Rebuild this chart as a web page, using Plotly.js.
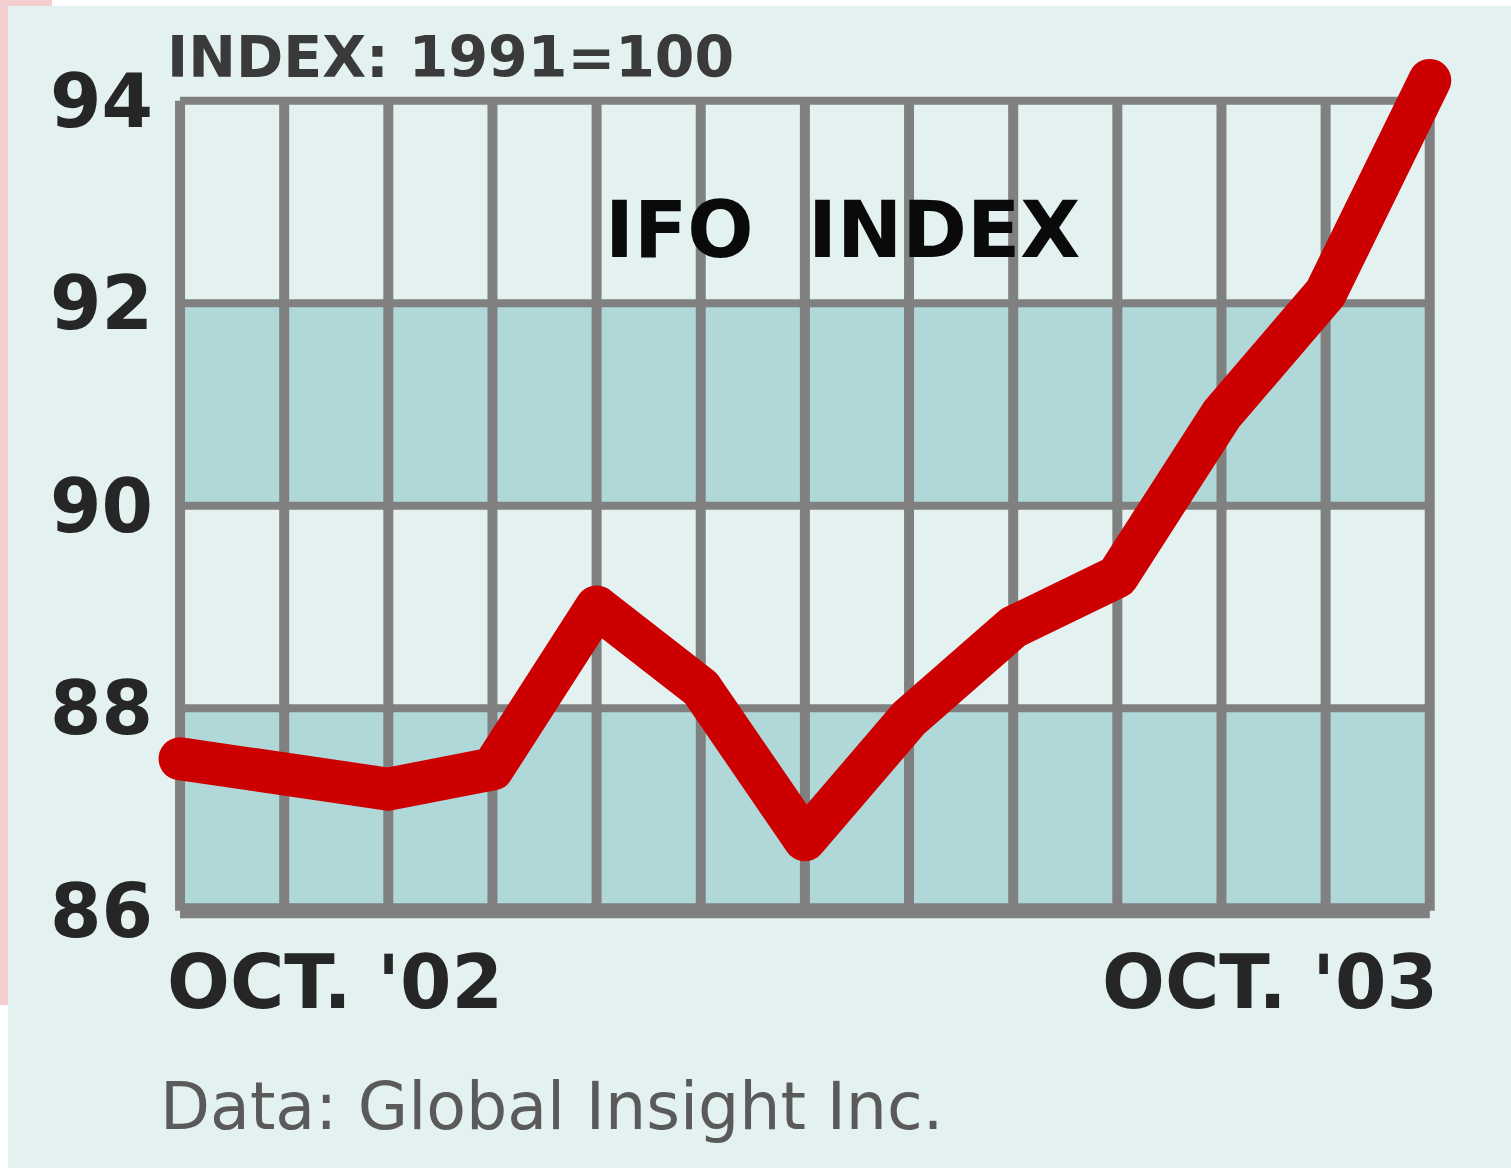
<!DOCTYPE html>
<html>
<head>
<meta charset="utf-8">
<script src="https://cdn.plot.ly/plotly-3.0.1.min.js"></script>
<style>
  html, body { margin:0; padding:0; background:#ffffff; width:1511px; height:1168px; overflow:hidden; }
  #edgeL { position:absolute; left:0; top:0; width:8px; height:1005px; background:#f4cdce; }
  #edgeT { position:absolute; left:0; top:0; width:52px; height:6px; background:#f4cdce; }
  #chart { position:absolute; left:8px; top:6px; width:1503px; height:1162px; }
  .scatterlayer .js-line { stroke-linecap: round !important; stroke-linejoin: round !important; }
</style>
</head>
<body>
<div id="edgeL"></div>
<div id="edgeT"></div>
<div id="chart"></div>
<script>
// ---- data ----
const months = ['Oct 02','Nov 02','Dec 02','Jan 03','Feb 03','Mar 03','Apr 03',
                'May 03','Jun 03','Jul 03','Aug 03','Sep 03','Oct 03'];
const ifoIndex = [87.5, 87.4, 87.2, 87.4, 89.0, 88.2, 86.7, 87.9, 88.8, 89.3, 90.9, 92.1, 94.2];
const yTickVals = [86, 88, 90, 92, 94];
const yTickText = ['86', '88', '90', '92', '94'];
const bandLow  = [86, 90];
const bandHigh = [88, 92];
const firstLabel = "OCT. '02";
const lastLabel  = "OCT. '03";
const chartTitle = 'IFO\u00a0 INDEX';
const unitNote   = 'INDEX: 1991=100';
const sourceNote = 'Data: Global Insight Inc.';

// ---- styles ----
const BG = '#e3f1f1';
const BAND = '#b1d8d8';
const GRID = '#808080';
const RED = '#cc0000';
const FONT = 'DejaVu Sans, Arial, sans-serif';

const shapes = [];
// shaded bands
for (let i = 0; i < bandLow.length; i++) {
  shapes.push({type:'rect', xref:'x', yref:'y', layer:'below',
    x0: months[0], x1: months[months.length-1], y0: bandLow[i], y1: bandHigh[i],
    fillcolor: BAND, line:{width:0}});
}
// vertical grid lines (one per month)
months.forEach(m => {
  shapes.push({type:'line', xref:'x', yref:'y', layer:'below',
    x0: m, x1: m, y0: yTickVals[0], y1: yTickVals[yTickVals.length-1],
    line:{color: GRID, width: 10}});
});
// horizontal grid lines
yTickVals.forEach((v, i) => {
  shapes.push({type:'line', xref:'x', yref:'y', layer:'below',
    x0: months[0], x1: months[months.length-1], y0: v, y1: v,
    line:{color: GRID, width: i === 0 ? 15 : 8}});
});

const trace = {
  type:'scatter', mode:'lines', x: months, y: ifoIndex,
  line:{color: RED, width: 43}, hoverinfo:'skip', cliponaxis:false
};

const layout = {
  width:1503, height:1162,
  margin:{l:146, r:50, t:44, b:232},
  paper_bgcolor: BG, plot_bgcolor: BG,
  showlegend:false,
  xaxis:{type:'category', range:[-0.25, 12.3], showgrid:false, zeroline:false,
         showticklabels:false, showline:false, ticks:''},
  yaxis:{range:[85.75, 94.5], tickvals: yTickVals, ticktext: yTickText,
         showgrid:false, zeroline:false, showline:false, ticks:'',
         tickfont:{family: FONT, size:74, color:'#262626', weight:'bold'}},
  shapes: shapes,
  annotations:[
    {text: unitNote, xref:'paper', yref:'paper', x:0.0084, y:0.992,
     xanchor:'left', yanchor:'middle', showarrow:false,
     font:{family: FONT, size:57, color:'#3a3a3a', weight:'bold'}},
    {text: chartTitle, xref:'paper', yref:'paper', x:0.5264, y:0.797,
     xanchor:'center', yanchor:'middle', showarrow:false,
     font:{family: FONT, size:78, color:'#0a0a0a', weight:'bold'}},
    {text: firstLabel, xref:'paper', yref:'paper', x:0.0084, y:-0.052,
     xanchor:'left', yanchor:'middle', showarrow:false,
     font:{family: FONT, size:74, color:'#262626', weight:'bold'}},
    {text: lastLabel, xref:'paper', yref:'paper', x:0.984, y:-0.052,
     xanchor:'right', yanchor:'middle', showarrow:false,
     font:{family: FONT, size:74, color:'#262626', weight:'bold'}},
    {text: sourceNote, xref:'paper', yref:'paper', x:0.003, y:-0.193,
     xanchor:'left', yanchor:'middle', showarrow:false,
     font:{family: FONT, size:65, color:'#5a5a5a'}}
  ]
};

Plotly.newPlot('chart', [trace], layout, {displayModeBar:false, staticPlot:true});
</script>
</body>
</html>
